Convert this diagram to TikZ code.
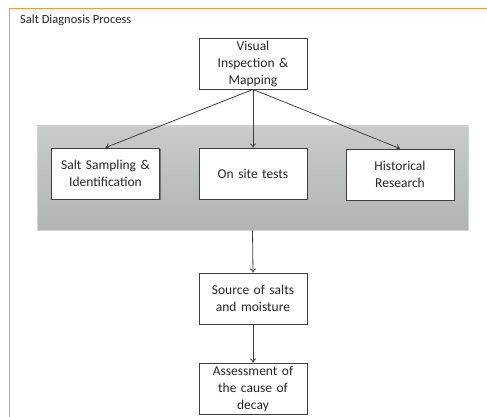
\documentclass[tikz,border=0pt]{standalone}
\usepackage{fontspec}
\setmainfont{Carlito}
\usetikzlibrary{shadows,arrows.meta}
\definecolor{frameorange}{HTML}{F79646}
\definecolor{boxline}{HTML}{3F3F3F}
\definecolor{txt}{HTML}{262626}
\tikzset{
  procbox/.style={draw=boxline, line width=0.9pt, fill=white, rectangle, inner sep=0pt,
    minimum width=108pt, minimum height=51pt, text width=106pt, align=center,
    font=\fontsize{13.5}{17}\selectfont, text=txt,
    drop shadow={shadow xshift=1pt, shadow yshift=-1pt, fill=black!55, opacity=1}},
  conn/.style={draw=boxline, line width=0.8pt, -{To[length=4pt,width=6pt]}},
}
\begin{document}
\begin{tikzpicture}[x=1pt,y=-1pt]
\useasboundingbox (0,0) rectangle (487,417);
\fill[white] (0,0) rectangle (487,417);
% orange frame
\draw[frameorange, line width=1pt] (9.5,417) -- (9.5,8.5) -- (487,8.5);
% title
\node[anchor=base west, inner sep=0pt, text=txt, font=\fontsize{12.5}{15}\selectfont] (title) at (20,24) {Salt Diagnosis Process};
% grey panel
\node[rectangle, inner sep=0pt, minimum width=431pt, minimum height=104pt,
  top color={rgb,255:red,201;green,203;blue,203}, bottom color={rgb,255:red,178;green,180;blue,180},
  draw={rgb,255:red,210;green,212;blue,212}, line width=0.6pt] (panel) at (252.5,178) {};
% boxes
\node[procbox] (vis) at (253,63.5) {Visual\\Inspection \&\\Mapping};
\node[procbox] (salt) at (105.5,173.5) {Salt Sampling \&\\Identification};
\node[procbox] (site) at (253,173.5) {On site tests};
\node[procbox] (hist) at (400,174.5) {Historical\\Research};
\node[procbox] (src) at (253,298.5) {Source of salts\\and moisture};
\node[procbox] (ass) at (253,388.5) {Assessment of\\the cause of\\decay};
% connectors
\draw[conn] (vis.south) -- (salt.north);
\draw[conn] (vis.south) -- (site.north);
\draw[conn] (vis.south) -- (hist.north);
\draw[conn] (panel.south) -- (src.north);
\draw[conn] (src.south) -- (ass.north);
\end{tikzpicture}
\end{document}
